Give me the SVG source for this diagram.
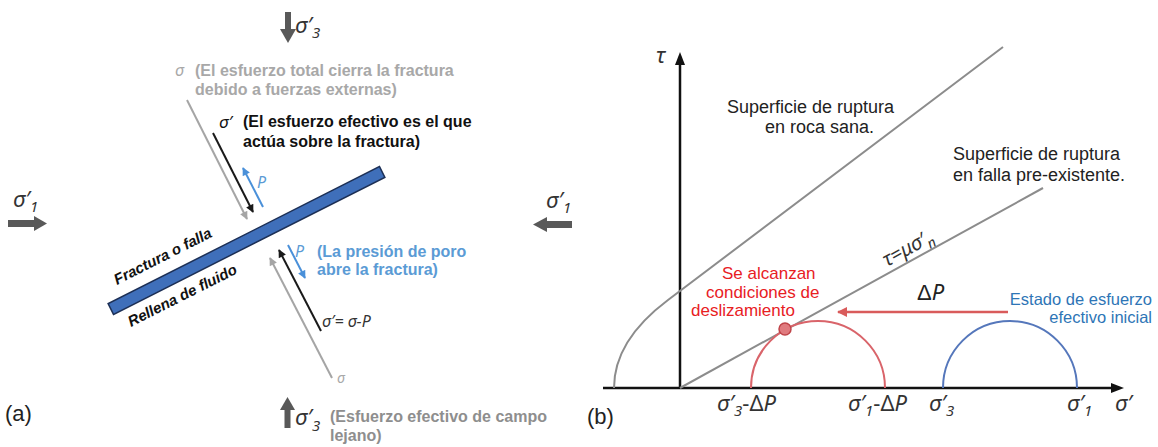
<svg xmlns="http://www.w3.org/2000/svg" width="1158" height="447" viewBox="0 0 1158 447">
<style>
text{font-family:"Liberation Sans",Arial,sans-serif;}
.m{font-family:"Noto Sans","DejaVu Sans",sans-serif;font-style:italic;}
.b{font-weight:bold;font-size:16px;}
.lg{fill:#a8a8a8;}
.dg{fill:#8e8e8e;}
.bl{fill:#5b9bd5;}
.big{font-size:22px;fill:#333;}
.sub{font-size:15px;}
.lab{font-size:18px;fill:#222;}
.red{font-size:17px;fill:#e8201f;}
.ln{fill:none;stroke-width:2;}
.sarrow{fill:#595959;}
</style>
<defs>
<marker id="mg" viewBox="0 0 10 10" refX="9" refY="5" markerUnits="userSpaceOnUse" markerWidth="10" markerHeight="8" orient="auto"><path d="M0,0 L10,5 L0,10 z" fill="#a5a5a5"/></marker>
<marker id="mk" viewBox="0 0 10 10" refX="9" refY="5" markerUnits="userSpaceOnUse" markerWidth="10" markerHeight="8" orient="auto"><path d="M0,0 L10,5 L0,10 z" fill="#1a1a1a"/></marker>
<marker id="mb" viewBox="0 0 10 10" refX="9" refY="5" markerUnits="userSpaceOnUse" markerWidth="10" markerHeight="8" orient="auto"><path d="M0,0 L10,5 L0,10 z" fill="#4a90d9"/></marker>
<marker id="mr" viewBox="0 0 10 10" refX="9" refY="5" markerUnits="userSpaceOnUse" markerWidth="12" markerHeight="10" orient="auto"><path d="M0,0 L10,5 L0,10 z" fill="#d95b5b"/></marker>
</defs>

<!-- Panel (a) -->
<g id="panel-a-label"><text x="5" y="421" font-size="22" fill="#222">(a)</text></g>

<g id="sigma3-top">
<rect class="sarrow" x="285" y="12" width="6" height="18"/>
<polygon class="sarrow" points="280,29 296,29 288,43"/>
<text class="m big" x="295" y="33">σ′<tspan class="sub" dy="5">3</tspan></text>
</g>

<g id="sigma1-left">
<rect class="sarrow" x="8" y="220" width="27" height="7"/>
<polygon class="sarrow" points="34,216 34,231 47,223.5"/>
<text class="m big" x="13" y="207">σ′<tspan class="sub" dy="5">1</tspan></text>
</g>

<g id="sigma1-right">
<polygon class="sarrow" points="533,224.5 547,217 547,232"/>
<rect class="sarrow" x="546" y="221" width="26" height="7"/>
<text class="m big" x="546" y="208">σ′<tspan class="sub" dy="5">1</tspan></text>
</g>

<g id="sigma3-bottom">
<polygon class="sarrow" points="280,410 295,410 287.5,397"/>
<rect class="sarrow" x="284.5" y="409" width="6" height="19"/>
<text class="m big" x="295" y="425">σ′<tspan class="sub" dy="6">3</tspan></text>
<text class="b dg" x="330" y="422">(Esfuerzo efectivo de campo</text>
<text class="b dg" x="330" y="441">lejano)</text>
</g>

<g id="total-stress-note">
<text class="m lg" x="175" y="76" font-size="16">σ</text>
<text class="b lg" x="195" y="76">(El esfuerzo total cierra la fractura</text>
<text class="b lg" x="195" y="95">debido a fuerzas externas)</text>
</g>

<g id="effective-stress-note">
<text class="m" x="219" y="128" font-size="17" fill="#111">σ′</text>
<text class="b" x="243" y="127" fill="#111">(El esfuerzo efectivo es el que</text>
<text class="b" x="243" y="147" fill="#111">actúa sobre la fractura)</text>
</g>

<g id="pore-pressure-note">
<text class="m bl" x="295" y="257" font-size="16">P</text>
<text class="b bl" x="317" y="257">(La presión de poro</text>
<text class="b bl" x="317" y="275">abre la fractura)</text>
<text class="m bl" x="257" y="188" font-size="16">P</text>
<text class="m" x="322" y="327" font-size="16" fill="#333">σ′= σ-P</text>
<text class="m lg" x="337" y="383" font-size="14">σ</text>
</g>

<g id="fracture">
<rect x="-152" y="-6" width="304" height="12" fill="#3f6fba" stroke="#1c2f55" stroke-width="1.5" transform="translate(246.5 240.5) rotate(-26.8)"/>
<text font-size="15" font-weight="bold" font-style="italic" fill="#111" transform="translate(117 285) rotate(-26.8)">Fractura o falla</text>
<text font-size="15" font-weight="bold" font-style="italic" fill="#111" transform="translate(131 327) rotate(-26.8)">Rellena de fluido</text>
</g>

<g id="connectors-a">
<line class="ln" x1="187" y1="100" x2="247" y2="219" stroke="#a5a5a5" marker-end="url(#mg)"/>
<line class="ln" x1="213" y1="133" x2="253" y2="212" stroke="#1a1a1a" marker-end="url(#mk)"/>
<line class="ln" x1="263" y1="207" x2="243" y2="168" stroke="#4a90d9" marker-end="url(#mb)"/>
<line class="ln" x1="332" y1="378" x2="270" y2="258" stroke="#a5a5a5" marker-end="url(#mg)"/>
<line class="ln" x1="321" y1="331" x2="279" y2="250" stroke="#1a1a1a" marker-end="url(#mk)"/>
<line class="ln" x1="288" y1="245" x2="305" y2="278" stroke="#4a90d9" marker-end="url(#mb)"/>
</g>

<!-- Panel (b) -->
<g id="panel-b-label"><text x="587" y="424" font-size="22" fill="#222">(b)</text></g>

<g id="axes">
<line x1="603" y1="388" x2="1114" y2="388" stroke="#111" stroke-width="2.5"/>
<polygon points="1124,388 1111,383 1111,393" fill="#111"/>
<line x1="680" y1="389" x2="680" y2="62" stroke="#111" stroke-width="2.5"/>
<polygon points="680,52 675,65 685,65" fill="#111"/>
<text class="m" x="656" y="63" font-size="22" fill="#333">τ</text>
<text class="m big" x="1115" y="411">σ′</text>
</g>

<g id="envelope-intact">
<path class="ln" d="M614 388 C614 350 640 321 668 300 L1003 47" stroke="#8c8c8c"/>
<text class="lab" x="727" y="113">Superficie de ruptura</text>
<text class="lab" x="765" y="133">en roca sana.</text>
</g>

<g id="envelope-fault">
<path class="ln" d="M680 388 L1043 188" stroke="#8c8c8c"/>
<text class="lab" x="953" y="160">Superficie de ruptura</text>
<text class="lab" x="953" y="181">en falla pre-existente.</text>
<text class="m" font-size="20" fill="#333" transform="translate(887 267) rotate(-28.8)">τ=μσ′<tspan font-size="14" dy="5">n</tspan></text>
</g>

<g id="circle-shifted">
<path class="ln" d="M751 388 A67 67 0 0 1 885 388" stroke="#d9646a"/>
<circle cx="785" cy="329" r="6" fill="#e07b7f" stroke="#c0454a" stroke-width="1.5"/>
<text class="red" x="722" y="279">Se alcanzan</text>
<text class="red" x="706" y="298">condiciones de</text>
<text class="red" x="691" y="316">deslizamiento</text>
<text class="m big" x="717" y="411">σ′<tspan class="sub" dy="5">3</tspan><tspan dy="-5" font-style="normal">-Δ</tspan>P</text>
<text class="m big" x="848" y="411">σ′<tspan class="sub" dy="5">1</tspan><tspan dy="-5" font-style="normal">-Δ</tspan>P</text>
</g>

<g id="circle-initial">
<path class="ln" d="M943 388 A67 67 0 0 1 1077 388" stroke="#5577bb"/>
<text x="1152" y="305" font-size="16.5" fill="#2e75b6" text-anchor="end">Estado de esfuerzo</text>
<text x="1152" y="323" font-size="16.5" fill="#2e75b6" text-anchor="end">efectivo inicial</text>
<text class="m big" x="929" y="411">σ′<tspan class="sub" dy="5">3</tspan></text>
<text class="m big" x="1067" y="411">σ′<tspan class="sub" dy="5">1</tspan></text>
</g>

<g id="connectors-b">
<line x1="1008" y1="312" x2="838" y2="312" stroke="#d95b5b" stroke-width="2.5" marker-end="url(#mr)"/>
<text x="917" y="300" font-size="22" fill="#222">Δ<tspan class="m">P</tspan></text>
</g>
</svg>
